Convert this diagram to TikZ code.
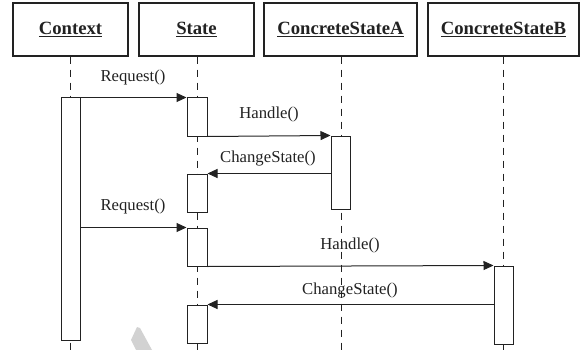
\documentclass[tikz,border=0pt]{standalone}
\usepackage{fontspec}
\setmainfont{Liberation Serif}
\usetikzlibrary{arrows.meta}
\definecolor{ink}{HTML}{222222}
\tikzset{
  x=1pt, y=-1pt,
  objbox/.style={draw=ink, line width=1.3pt, minimum width=115pt, minimum height=53pt,
    inner sep=0pt, font=\fontsize{18.7}{20}\selectfont\bfseries, text=ink},
  lifeline/.style={draw=ink, line width=1pt, dash pattern=on 7pt off 6pt},
  actbox/.style={draw=ink, line width=1pt, fill=white},
  msg/.style={draw=ink, line width=1pt, -{Triangle[length=10pt,width=9pt]}},
  msglabel/.style={font=\fontsize{16.7}{18}\selectfont, text=ink, inner sep=0pt}
}
\begin{document}
\begin{tikzpicture}
\useasboundingbox (0,0) rectangle (588,350);

% object headers
\node[objbox, minimum width=115pt] (ctx) at (70.5,29.5) {\underline{Context}};
\node[objbox, minimum width=115pt] (st)  at (196.5,29.5) {\underline{State}};
\node[objbox, minimum width=153pt] (csa) at (340.5,29.5) {\underline{ConcreteStateA}};
\node[objbox, minimum width=151pt] (csb) at (503.5,29.5) {\underline{ConcreteStateB}};

% lifeline bottoms
\coordinate (ctxEnd) at (70,350);
\coordinate (stEnd)  at (197,350);
\coordinate (csaEnd) at (341,350);
\coordinate (csbEnd) at (503,350);

% lifelines
\draw[lifeline] (ctx.south -| ctxEnd) -- (ctxEnd);
\draw[lifeline] (st.south -| stEnd) -- (stEnd);
\draw[lifeline] (csa.south -| csaEnd) -- (csaEnd);
\draw[lifeline] (csb.south -| csbEnd) -- (csbEnd);

% activation bars
\node[actbox, minimum width=19pt, minimum height=242pt, inner sep=0pt] (actC) at (70.5,219) {};
\node[actbox, minimum width=20pt, minimum height=38pt, inner sep=0pt] (actS1) at (197,117) {};
\node[actbox, minimum width=19pt, minimum height=73pt, inner sep=0pt] (actA) at (340.5,172.5) {};
\node[actbox, minimum width=20pt, minimum height=38pt, inner sep=0pt] (actS2) at (197,193) {};
\node[actbox, minimum width=20pt, minimum height=38pt, inner sep=0pt] (actS3) at (197,247) {};
\node[actbox, minimum width=19pt, minimum height=78pt, inner sep=0pt] (actB) at (503.5,305) {};
\node[actbox, minimum width=20pt, minimum height=38pt, inner sep=0pt] (actS4) at (197,324) {};

% messages
\draw[msg] (actC.north east) -- (actS1.north west);
\node[msglabel] (lReq1) at (133,77) {Request()};

\draw[msg] (actS1.south east) -- (actA.north west);
\node[msglabel] (lHan1) at (269,114) {Handle()};

\draw[msg] (actA.west |- actS2.north) -- (actS2.north east);
\node[msglabel] (lChg1) at (268,159) {ChangeState()};

\draw[msg] (actC.east |- actS3.north) -- (actS3.north west);
\node[msglabel] (lReq2) at (133,206) {Request()};

\draw[msg] (actS3.south east) -- (actB.north west);
\node[msglabel] (lHan2) at (350,245) {Handle()};

\draw[msg] (actB.west |- actS4.north) -- (actS4.north east);
\node[msglabel] (lChg2) at (350,291) {ChangeState()};

% faint mark near the bottom
\fill[gray!35] (131,340) -- (137,327) -- (140,328) -- (152,350) -- (136,350) -- cycle;
\end{tikzpicture}
\end{document}
